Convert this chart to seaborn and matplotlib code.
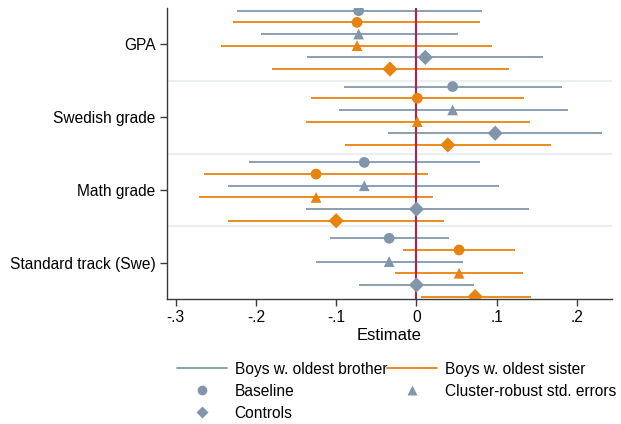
import numpy as np
import pandas as pd
import matplotlib
matplotlib.use("Agg")
import matplotlib.pyplot as plt
from matplotlib.lines import Line2D
import seaborn as sns

# Outcomes, top to bottom
outcomes = ["GPA", "Swedish grade", "Math grade", "Standard track (Swe)"]
# Row order inside each outcome block: (sample, specification)
rows = [
    ("Boys w. oldest brother", "Baseline"),
    ("Boys w. oldest sister", "Baseline"),
    ("Boys w. oldest brother", "Cluster-robust std. errors"),
    ("Boys w. oldest sister", "Cluster-robust std. errors"),
    ("Boys w. oldest brother", "Controls"),
    ("Boys w. oldest sister", "Controls"),
]

# Point estimates and 95% confidence bounds, one list per outcome (rows as above)
est_gpa = [-0.072, -0.074, -0.072, -0.074, 0.011, -0.033]
lo_gpa = [-0.223, -0.228, -0.194, -0.243, -0.136, -0.180]
hi_gpa = [0.081, 0.079, 0.052, 0.094, 0.158, 0.115]

est_swe = [0.045, 0.001, 0.045, 0.001, 0.098, 0.039]
lo_swe = [-0.090, -0.131, -0.097, -0.138, -0.035, -0.089]
hi_swe = [0.181, 0.134, 0.188, 0.141, 0.231, 0.168]

est_math = [-0.065, -0.125, -0.065, -0.125, 0.000, -0.100]
lo_math = [-0.209, -0.265, -0.235, -0.271, -0.138, -0.235]
hi_math = [0.079, 0.014, 0.103, 0.021, 0.140, 0.034]

est_track = [-0.034, 0.053, -0.034, 0.053, 0.000, 0.073]
lo_track = [-0.108, -0.017, -0.125, -0.027, -0.072, 0.005]
hi_track = [0.040, 0.123, 0.058, 0.132, 0.071, 0.142]

x_ticks = [-0.3, -0.2, -0.1, 0.0, 0.1, 0.2]
x_tick_labels = ["-.3", "-.2", "-.1", "0", ".1", ".2"]

estimates = [est_gpa, est_swe, est_math, est_track]
lowers = [lo_gpa, lo_swe, lo_math, lo_track]
uppers = [hi_gpa, hi_swe, hi_math, hi_track]

records = []
for g, outcome in enumerate(outcomes):
    for r, (sample, spec) in enumerate(rows):
        records.append(dict(outcome=outcome, sample=sample, spec=spec,
                            pos=g * 6.5 + r,
                            est=estimates[g][r], lo=lowers[g][r], hi=uppers[g][r]))
df = pd.DataFrame(records)

sns.set_theme(style="white")
plt.rcParams["font.family"] = ["Liberation Sans", "DejaVu Sans"]
plt.rcParams["font.size"] = 11.2
plt.rcParams["text.color"] = "black"
plt.rcParams["axes.labelcolor"] = "black"

gray = "#8296ab"
orange = "#e8830f"
palette = {"Boys w. oldest brother": gray, "Boys w. oldest sister": orange}
marker_map = {"Baseline": "o", "Cluster-robust std. errors": "^", "Controls": "D"}

fig = plt.figure(figsize=(6.21, 4.24), dpi=100)
ax = fig.add_axes([0.2684, 0.2941, 0.985 - 0.2684, 0.9811 - 0.2941])

y_top, y_bot = -0.23, 24.73
ax.set_ylim(y_bot, y_top)
ax.set_xlim(-0.311, 0.243)

# Band separators and outcome ticks on an even grid
band = (y_bot - y_top) / 4
for k in range(1, 4):
    ax.axhline(y_top + k * band, color="#eaf0f2", lw=1.5, zorder=0)
ax.set_yticks([y_top + (k + 0.5) * band for k in range(4)])
ax.set_yticklabels(outcomes)

# Confidence intervals
for sample, sub in df.groupby("sample"):
    ax.hlines(sub["pos"], sub["lo"], sub["hi"], color=palette[sample], lw=1.3, zorder=2)

ax.axvline(0, color="#b5214a", lw=1.5, zorder=3)

sns.scatterplot(data=df, x="est", y="pos", hue="sample", style="spec",
                palette=palette, markers=marker_map, s=60, edgecolor="none",
                legend=False, ax=ax, zorder=4)

ax.set_xticks(x_ticks)
ax.set_xticklabels(x_tick_labels)
ax.set_xlabel("Estimate", labelpad=2, color="black")
ax.set_ylabel("")

for side in ["top", "right"]:
    ax.spines[side].set_visible(False)
for side in ["left", "bottom"]:
    ax.spines[side].set_color("#3a3a3a")
    ax.spines[side].set_linewidth(1.0)
ax.tick_params(axis="both", which="major", direction="out", length=5, width=1,
               color="#3a3a3a", labelsize=11.2, labelcolor="black", pad=3)
ax.tick_params(axis="x", bottom=True)
ax.tick_params(axis="y", left=True)

handles = [
    Line2D([], [], color=gray, lw=1.3, label="Boys w. oldest brother"),
    Line2D([], [], color=gray, marker="o", ls="none", ms=7, mec="none", label="Baseline"),
    Line2D([], [], color=gray, marker="D", ls="none", ms=6.5, mec="none", label="Controls"),
    Line2D([], [], color=orange, lw=1.3, label="Boys w. oldest sister"),
    Line2D([], [], color=gray, marker="^", ls="none", ms=7, mec="none", label="Cluster-robust std. errors"),
]
fig.legend(handles=handles, ncol=2, loc="upper left", bbox_to_anchor=(0.285, 0.147),
           frameon=False, fontsize=11.2, handlelength=3.2, handletextpad=0.5,
           columnspacing=0.0, labelspacing=0.45, borderaxespad=0, borderpad=0,
           labelcolor="black")

fig.savefig("out.png", dpi=100)
